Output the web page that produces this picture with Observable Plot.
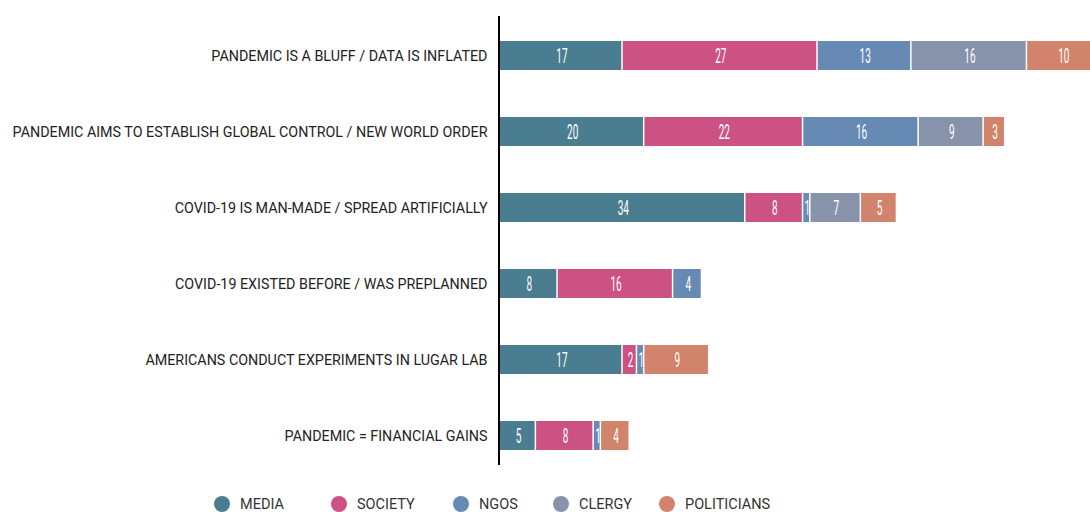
<!DOCTYPE html>
<html>
<head>
<meta charset="utf-8">
<script src="https://cdn.jsdelivr.net/npm/d3@7"></script>
<script src="https://cdn.jsdelivr.net/npm/@observablehq/plot@0.6"></script>
<style>
  html, body { margin: 0; padding: 0; background: #fff; }
  #legend { display: flex; align-items: center; height: 18px; padding-left: 214px; margin-top: 3px;
    font-family: Roboto, sans-serif; font-size: 14.5px; color: #333; }
  .item { display: flex; align-items: center; }
  .dot { width: 16px; height: 16px; border-radius: 50%; margin-right: 10px; flex: none; }
</style>
</head>
<body>
<div id="chart"></div>
<div id="legend"></div>
<script>
const categories = [
  "PANDEMIC IS A BLUFF / DATA IS INFLATED",
  "PANDEMIC AIMS TO ESTABLISH GLOBAL CONTROL / NEW WORLD ORDER",
  "COVID-19 IS MAN-MADE / SPREAD ARTIFICIALLY",
  "COVID-19 EXISTED BEFORE / WAS PREPLANNED",
  "AMERICANS CONDUCT EXPERIMENTS IN LUGAR LAB",
  "PANDEMIC = FINANCIAL GAINS"
];
const groups = ["MEDIA", "SOCIETY", "NGOS", "CLERGY", "POLITICIANS"];
const media       = [17, 20, 34, 8, 17, 5];
const society     = [27, 22, 8, 16, 2, 8];
const ngos        = [13, 16, 1, 4, 1, 1];
const clergy      = [16, 9, 7, 0, 0, 0];
const politicians = [10, 3, 5, 0, 9, 4];
const colors = ["#4a7d90", "#cb5283", "#668ab4", "#8793aa", "#d1846b"];
const legendItemWidths = [117, 122, 100, 106, 140];

const series = [media, society, ngos, clergy, politicians];
const data = [];
categories.forEach((cat, i) => {
  groups.forEach((g, j) => {
    const v = series[j][i];
    if (v > 0) data.push({cat, group: g, value: v});
  });
});

// condensed value labels: squeeze each text horizontally around its anchor
function condensed(index, scales, values, dims, ctx, next) {
  const g = next(index, scales, values, dims, ctx);
  g.querySelectorAll("text").forEach(t => {
    const x = +t.getAttribute("x") || 0, y = +t.getAttribute("y") || 0;
    const tr = t.getAttribute("transform") || "";
    t.removeAttribute("x"); t.removeAttribute("y");
    t.setAttribute("dy", "0.36em");
    t.setAttribute("transform", `${tr} translate(${x},${y}) scale(0.5,1)`);
  });
  return g;
}

const chart = Plot.plot({
  width: 1090,
  height: 492,
  marginLeft: 500,
  marginRight: 0,
  marginTop: 16,
  marginBottom: 18,
  style: {fontFamily: "Roboto, sans-serif", fontSize: "14px", color: "#222", background: "#fff"},
  x: {domain: [0, 81.7], axis: null},
  y: {domain: categories, paddingInner: 0.62, paddingOuter: 0.32, axis: null},
  color: {domain: groups, range: colors},
  marks: [
    Plot.barX(data, Plot.stackX({x: "value", y: "cat", fill: "group", insetRight: 1.5, clip: true})),
    Plot.text(data, Plot.stackX({x: "value", y: "cat", z: "group", text: d => String(d.value),
      fill: "white", fontSize: 20, fontFamily: "Roboto, sans-serif", render: condensed})),
    Plot.axisY({tickSize: 0, tickPadding: 13, label: null, fontSize: 14.3, fill: "#222"}),
    Plot.ruleX([0], {stroke: "black", strokeWidth: 2, dx: -1.5, insetBottom: 9})
  ]
});
document.getElementById("chart").appendChild(chart);

const legend = document.getElementById("legend");
groups.forEach((g, j) => {
  const it = document.createElement("div");
  it.className = "item";
  it.style.width = legendItemWidths[j] + "px";
  it.innerHTML = `<span class="dot" style="background:${colors[j]}"></span><span>${g}</span>`;
  legend.appendChild(it);
});
</script>
</body>
</html>
